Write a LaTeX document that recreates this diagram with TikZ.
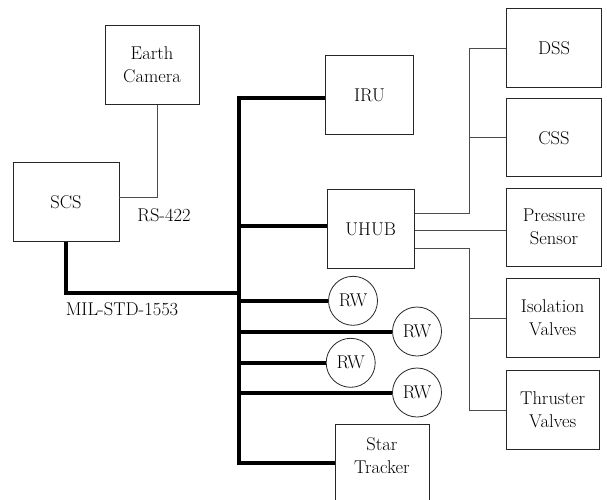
\documentclass[tikz,border=0pt]{standalone}
\usetikzlibrary{positioning}

\begin{document}
\begin{tikzpicture}[
  x=1pt,y=-1pt,
  font=\fontsize{18.5}{22.7}\selectfont,
  box/.style={draw=black!85,line width=0.8pt,align=center,inner sep=0pt,
    minimum height=79pt,minimum width=94pt},
  wheel/.style={draw=black!85,line width=0.8pt,circle,inner sep=0pt,
    minimum size=49pt},
  bus/.style={line width=4pt,line join=miter},
  link/.style={draw=black!70,line width=0.8pt}
]
\useasboundingbox (0,0) rectangle (607,500);

\node[box] (earth) at (152,65) {Earth\\Camera};
\node[box,minimum width=106pt] (scs) at (66,202) {SCS};
\node[box,minimum width=88pt] (iru) at (369.5,95) {IRU};
\node[box,minimum width=87pt] (uhub) at (370.7,229) {UHUB};
\node[box,minimum width=95pt] (dss) at (554,48) {DSS};
\node[box,minimum width=95pt,minimum height=78pt] (css) at (554,137.7) {CSS};
\node[box,minimum width=95pt,minimum height=78pt] (pres) at (554,227) {Pressure\\Sensor};
\node[box,minimum width=93pt] (iso) at (552.7,318) {Isolation\\Valves};
\node[box,minimum width=93pt] (thr) at (552.7,410) {Thruster\\Valves};
\node[box,text depth=16pt] (star) at (382,463.5) {Star\\Tracker};

\node[wheel] (rw1) at (353,300.8) {RW};
\node[wheel] (rw2) at (417,331.5) {RW};
\node[wheel] (rw3) at (350.7,362.8) {RW};
\node[wheel] (rw4) at (417,392.5) {RW};

\node (rs) at (164,215) {RS-422};
\node (mil) at (122,309) {MIL-STD-1553};

% 1553 bus
\coordinate (bustop) at (239.3,97.7);
\coordinate (busbot) at (239.3,462.7);
\coordinate (junc) at (239.3,293.3);
\draw[bus] ([yshift=-2.7pt]iru.west) -- (bustop) -- (busbot) -- (star.west|-busbot);
\draw[bus] (scs.south) |- (junc);
\draw[bus] (bustop|-uhub.west) ++(0,-3.3) -- ([yshift=3.3pt]uhub.west);
\draw[bus] (bustop|-rw1) -- (rw1);
\draw[bus] (bustop|-rw2) -- (rw2);
\draw[bus] (bustop|-rw3) -- (rw3);
\draw[bus] (bustop|-rw4) -- (rw4);

% RS-422 and UHUB links
\coordinate (rsbend) at (157,197.7);
\coordinate (hubx) at (469,0);
\coordinate (presy) at (0,230.7);
\draw[link] (earth.south-|rsbend) -- (rsbend) -- (scs.east|-rsbend);
\draw[link] ([yshift=16pt]uhub.east) -| (hubx|-dss.west) -- (dss.west);
\draw[link] (hubx|-css.west) -- (css.west);
\draw[link] (uhub.east|-presy) -- (pres.west|-presy);
\draw[link] ([yshift=-19pt]uhub.east) -| (hubx|-thr.west) -- (thr.west);
\draw[link] (hubx|-iso.west) -- (iso.west);
\end{tikzpicture}
\end{document}
